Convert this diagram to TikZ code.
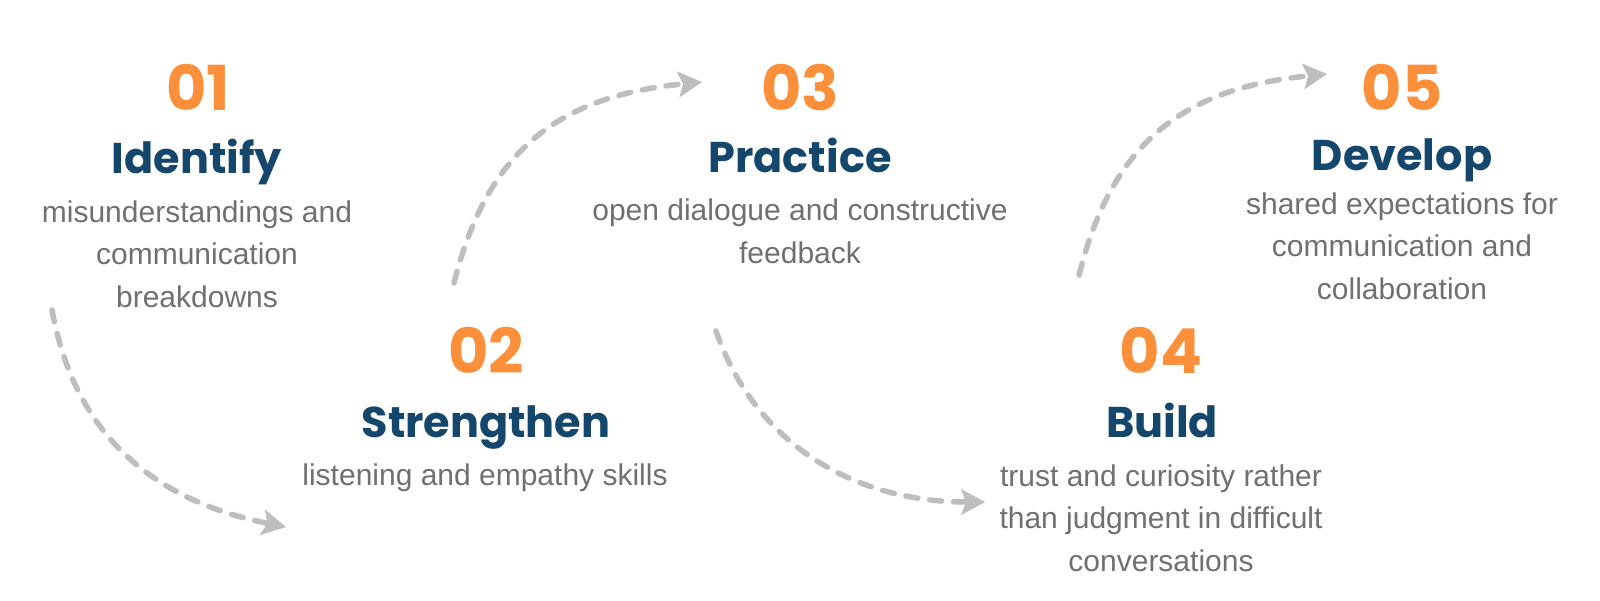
\documentclass[tikz,border=0pt]{standalone}
\usepackage{fontspec}
\setmainfont{Liberation Sans}
\newfontfamily\headfont{Poppins}
\usetikzlibrary{arrows.meta}
\definecolor{numorange}{RGB}{252,143,58}
\definecolor{titlenavy}{RGB}{21,71,109}
\definecolor{bodygrey}{RGB}{112,112,112}
\definecolor{arrowgrey}{RGB}{190,190,190}
\tikzset{
  stepnum/.style={anchor=base, inner sep=0pt, text=numorange, font=\headfont\bfseries\fontsize{62}{62}\selectfont},
  steptitle/.style={anchor=base, inner sep=0pt, text=titlenavy, font=\headfont\bfseries\fontsize{43}{43}\selectfont},
  stepbody/.style={anchor=base, inner sep=0pt, text=bodygrey, align=center, font=\fontsize{30}{42.5}\selectfont},
  flowarrow/.style={draw=arrowgrey, line width=5.5pt, dash pattern=on 12pt off 12pt, line cap=round,
    -{Stealth[length=24pt,width=26pt,inset=5pt,line width=1pt,fill=arrowgrey]}}
}
\begin{document}
\begin{tikzpicture}[x=1pt,y=-1pt]
\useasboundingbox (0,0) rectangle (1600,600);
\fill[white] (0,0) rectangle (1600,600);

% step 1 (multi-line body nodes are placed by the baseline of their last line)
\node[stepnum] (n1) at (198,110) {01};
\node[steptitle] (t1) at (197,173) {Identify};
\node[stepbody] (b1) at (197,307) {misunderstandings and\\communication\\breakdowns};

% step 2
\node[stepnum] (n2) at (486,373) {02};
\node[steptitle] (t2) at (486,437) {Strengthen};
\node[stepbody] (b2) at (485,485) {listening and empathy skills};

% step 3
\node[stepnum] (n3) at (800,110) {03};
\node[steptitle] (t3) at (800,172) {Practice};
\node[stepbody] (b3) at (800,263) {open dialogue and constructive\\feedback};

% step 4
\node[stepnum] (n4) at (1161,373) {04};
\node[steptitle] (t4) at (1162,437) {Build};
\node[stepbody] (b4) at (1161,571) {trust and curiosity rather\\than judgment in difficult\\conversations};

% step 5
\node[stepnum] (n5) at (1402,110) {05};
\node[steptitle] (t5) at (1402,170) {Develop};
\node[stepbody] (b5) at (1402,299) {shared expectations for\\communication and\\collaboration};

% arrow end points
\coordinate (a1s) at (52,310);
\coordinate (a1e) at (286,527);
\coordinate (a2s) at (454,283);
\coordinate (a2e) at (702,82);
\coordinate (a3s) at (716,331);
\coordinate (a3e) at (985,502);
\coordinate (a4s) at (1079,275);
\coordinate (a4e) at (1327,74);

\draw[flowarrow] (a1s) .. controls (75,437) and (156,501) .. (a1e);
\draw[flowarrow] (a2s) .. controls (488,147) and (562,96) .. (a2e);
\draw[flowarrow] (a3s) .. controls (757,449) and (860,502) .. (a3e);
\draw[flowarrow] (a4s) .. controls (1113,139) and (1187,88) .. (a4e);
\end{tikzpicture}
\end{document}
